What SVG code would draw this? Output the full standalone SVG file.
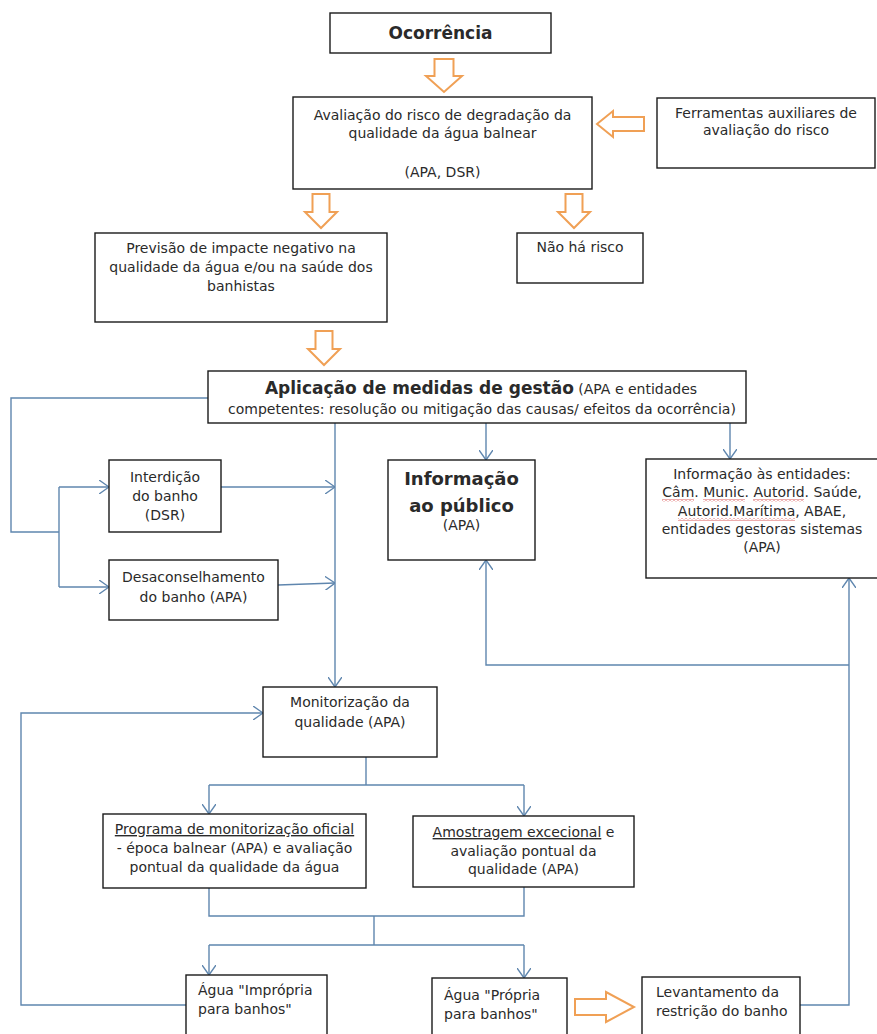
<svg xmlns="http://www.w3.org/2000/svg" width="877" height="1034" viewBox="0 0 877 1034">
<style>
.box{fill:#fff;stroke:#1a1a1a;stroke-width:1.4}
.t{font-family:"DejaVu Sans",Verdana,sans-serif;font-size:14px;fill:#2a2a2a;text-anchor:middle}
.l{text-anchor:start}
.b{font-weight:bold}
.oa{fill:#fff;stroke:#f0a055;stroke-width:2}
.c{fill:none;stroke:#5f86ae;stroke-width:1.4}
.a{marker-end:url(#ah)}
</style>
<defs>
<marker id="ah" viewBox="0 0 10 14" refX="10" refY="7" markerWidth="10" markerHeight="14" markerUnits="userSpaceOnUse" orient="auto">
<path d="M0,0 L10,7 L0,14" fill="none" stroke="#5f86ae" stroke-width="1.4"/>
</marker>
<pattern id="wave" width="4" height="3" patternUnits="userSpaceOnUse">
<path d="M0,0.5 L2,2.5 L4,0.5" fill="none" stroke="#d03030" stroke-width="0.8"/>
</pattern>
</defs>
<g id="orange-arrows">
<polygon class="oa" points="434.5,59 453.5,59 453.5,76 462,76 444,92 426,76 434.5,76"/>
<polygon class="oa" points="312.5,194 329.5,194 329.5,212 337,212 321,228 305,212 312.5,212"/>
<polygon class="oa" points="565.5,194 582.5,194 582.5,212 590,212 574,228 558,212 565.5,212"/>
<polygon class="oa" points="315.5,331 332.5,331 332.5,349 340,349 324,365 308,349 315.5,349"/>
<polygon class="oa" points="644,117 613,117 613,111 597,124 613,137 613,131 644,131"/>
<polygon class="oa" points="575,999 606,999 606,992 634,1007 606,1022 606,1015 575,1015"/>
</g>
<g id="connectors">
<path class="c" d="M208,398 H11 V532 H59"/>
<path class="c" d="M59,487 V587"/>
<path class="c a" d="M59,487 H109"/>
<path class="c a" d="M59,587 H109"/>
<path class="c a" d="M221,487 H335"/>
<path class="c a" d="M278,585 L335,583"/>
<path class="c a" d="M335,423 V687"/>
<path class="c a" d="M486,423 V460"/>
<path class="c a" d="M730,423 V459"/>
<path class="c" d="M366,757 V785 M209,785 H524"/>
<path class="c a" d="M209,785 V814"/>
<path class="c a" d="M524,785 V816"/>
<path class="c" d="M209,888 V916 H524 V887 M374,916 V945 M209,945 H524"/>
<path class="c a" d="M209,945 V975"/>
<path class="c a" d="M524,945 V978"/>
<path class="c a" d="M186,1005 H21 V713 H263"/>
<path class="c a" d="M800,1005 H849 V578"/>
<path class="c a" d="M849,665 H486 V560"/>
</g>
<g id="ocorrencia">
<rect class="box" x="330" y="13" width="221" height="40"/>
<text class="t b" x="440.5" y="39" style="font-size:17px">Ocorrência</text>
</g>
<g id="avaliacao">
<rect class="box" x="293" y="97" width="299" height="92"/>
<text class="t" x="442.5" y="120">Avaliação do risco de degradação da</text>
<text class="t" x="442.5" y="138">qualidade da água balnear</text>
<text class="t" x="442.5" y="177">(APA, DSR)</text>
</g>
<g id="ferramentas">
<rect class="box" x="657" y="98" width="218" height="70"/>
<text class="t" x="766" y="118">Ferramentas auxiliares de</text>
<text class="t" x="766" y="135">avaliação do risco</text>
</g>
<g id="previsao">
<rect class="box" x="95" y="233" width="292" height="89"/>
<text class="t" x="241" y="253">Previsão de impacte negativo na</text>
<text class="t" x="241" y="272">qualidade da água e/ou na saúde dos</text>
<text class="t" x="241" y="291">banhistas</text>
</g>
<g id="nao-ha-risco">
<rect class="box" x="517" y="233" width="126" height="50"/>
<text class="t" x="580" y="252">Não há risco</text>
</g>
<g id="aplicacao">
<rect class="box" x="208" y="371" width="538" height="52"/>
<text class="t" x="481" y="394"><tspan class="b" style="font-size:17px">Aplicação de medidas de gestão</tspan> (APA e entidades</text>
<text class="t" x="482" y="414">competentes: resolução ou mitigação das causas/ efeitos da ocorrência)</text>
</g>
<g id="interdicao">
<rect class="box" x="109" y="460" width="112" height="72"/>
<text class="t" x="165" y="482">Interdição</text>
<text class="t" x="165" y="501">do banho</text>
<text class="t" x="165" y="520">(DSR)</text>
</g>
<g id="desaconselhamento">
<rect class="box" x="109" y="560" width="169" height="60"/>
<text class="t" x="193.5" y="582">Desaconselhamento</text>
<text class="t" x="193.5" y="602">do banho (APA)</text>
</g>
<g id="info-publico">
<rect class="box" x="388" y="460" width="147" height="100"/>
<text class="t b" x="461.5" y="485" style="font-size:18px">Informação</text>
<text class="t b" x="461.5" y="512" style="font-size:18px">ao público</text>
<text class="t" x="461.5" y="530">(APA)</text>
</g>
<g id="info-entidades">
<rect class="box" x="646" y="459" width="235" height="119"/>
<text class="t" x="762" y="479">Informação às entidades:</text>
<text class="t" x="762" y="497">Câm. Munic. Autorid. Saúde,</text>
<text class="t" x="762" y="516">Autorid.Marítima, ABAE,</text>
<text class="t" x="762" y="534">entidades gestoras sistemas</text>
<text class="t" x="762" y="552">(APA)</text>
<rect x="662" y="499" width="32" height="3" fill="url(#wave)"/>
<rect x="703" y="499" width="42" height="3" fill="url(#wave)"/>
<rect x="753" y="499" width="51" height="3" fill="url(#wave)"/>
<rect x="678" y="518" width="117" height="3" fill="url(#wave)"/>
</g>
<g id="monitorizacao">
<rect class="box" x="263" y="687" width="174" height="70"/>
<text class="t" x="350" y="707">Monitorização da</text>
<text class="t" x="350" y="727">qualidade (APA)</text>
</g>
<g id="programa">
<rect class="box" x="103" y="814" width="263" height="74"/>
<text class="t" x="234.5" y="834" text-decoration="underline">Programa de monitorização oficial</text>
<text class="t" x="234.5" y="853">- época balnear (APA) e avaliação</text>
<text class="t" x="234.5" y="872">pontual da qualidade da água</text>
</g>
<g id="amostragem">
<rect class="box" x="413" y="816" width="221" height="71"/>
<text class="t" x="523.5" y="837"><tspan text-decoration="underline">Amostragem excecional</tspan> e</text>
<text class="t" x="523.5" y="856">avaliação pontual da</text>
<text class="t" x="523.5" y="874">qualidade (APA)</text>
</g>
<g id="impropria">
<rect class="box" x="186" y="975" width="141" height="70"/>
<text class="t l" x="198" y="995">Água "Imprópria</text>
<text class="t l" x="198" y="1014">para banhos"</text>
</g>
<g id="propria">
<rect class="box" x="432" y="978" width="135" height="70"/>
<text class="t l" x="444" y="1000">Água "Própria</text>
<text class="t l" x="444" y="1019">para banhos"</text>
</g>
<g id="levantamento">
<rect class="box" x="642" y="977" width="158" height="70"/>
<text class="t l" x="656" y="997">Levantamento da</text>
<text class="t l" x="656" y="1016">restrição do banho</text>
</g>
</svg>
